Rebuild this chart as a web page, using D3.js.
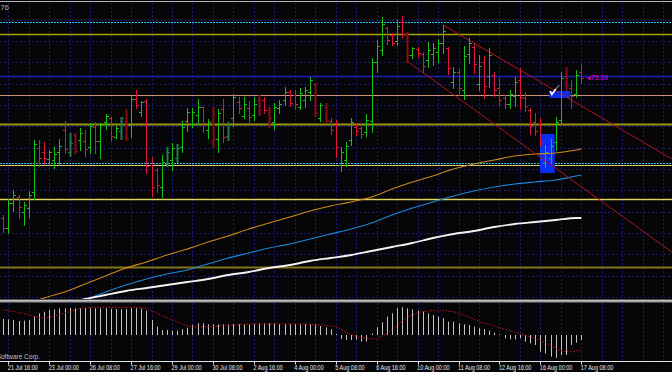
<!DOCTYPE html>
<html lang="en">
<head>
<meta charset="UTF-8" />
<script src="https://d3js.org/d3.v7.min.js"></script>
<title>H4 chart</title>
<style>
  body { margin: 0; background: #050508; }
  svg { display: block; }
  text { font-family: "Liberation Sans", Arial, sans-serif; }
</style>
</head>
<body>
<script>
// time axis labels, one every 8 bars starting at bar 1
const dates = ["21 Jul 16:00", "23 Jul 00:00", "26 Jul 08:00", "27 Jul 16:00", "29 Jul 00:00",
  "30 Jul 08:00", "2 Aug 16:00", "4 Aug 00:00", "5 Aug 08:00", "6 Aug 16:00",
  "10 Aug 00:00", "11 Aug 08:00", "12 Aug 16:00", "16 Aug 00:00", "17 Aug 08:00"];

// H4 bars, oldest first
const opens = [73.88,73.78,74.03,74.09,73.94,73.98,74.14,74.58,74.54,74.47,
  74.46,74.54,74.76,74.54,74.71,74.66,74.65,74.59,74.79,74.65,
  74.84,74.88,74.69,74.75,74.85,74.81,75.07,74.94,75.05,74.41,
  74.36,74.19,74.42,74.46,74.48,74.59,74.85,74.82,74.91,74.99,
  74.76,74.85,74.67,74.97,74.70,74.88,75.04,74.90,74.98,74.91,
  75.06,75.06,74.96,74.84,74.98,75.06,75.14,75.11,74.99,75.06,
  75.14,75.22,74.88,74.99,74.85,74.81,74.41,74.46,74.66,74.79,
  74.78,74.74,74.85,75.44,75.56,75.78,75.71,75.65,75.84,75.72,
  75.51,75.57,75.52,75.46,75.52,75.54,75.63,75.58,75.24,75.34,
  75.16,75.52,75.59,75.22,75.44,75.30,75.31,75.18,75.08,75.02,
  75.10,75.26,75.08,74.96,74.84,74.82,74.43,74.48,74.64,74.86,
  75.30,75.18,75.12,75.34];
const highs = [73.91,74.07,74.16,74.11,74.04,74.15,74.66,74.66,74.64,74.56,
  74.59,74.67,74.85,74.73,74.73,74.78,74.76,74.83,74.84,74.83,
  74.92,74.89,74.80,74.89,74.97,75.10,75.16,75.05,75.07,74.49,
  74.38,74.51,74.59,74.63,74.62,74.85,74.98,74.98,75.07,75.00,
  74.87,74.99,74.97,75.07,74.84,75.12,75.09,75.09,75.05,75.09,
  75.11,75.09,74.99,75.03,75.06,75.19,75.16,75.16,75.18,75.19,
  75.29,75.23,75.03,75.03,74.88,74.86,74.59,74.64,74.88,74.83,
  74.79,74.92,75.48,75.66,75.89,75.79,75.73,75.86,75.90,75.74,
  75.59,75.59,75.54,75.64,75.63,75.67,75.81,75.59,75.39,75.37,
  75.60,75.68,75.63,75.51,75.50,75.58,75.34,75.28,75.11,75.16,
  75.29,75.38,75.14,74.98,74.93,74.88,74.61,74.67,74.89,75.34,
  75.39,75.26,75.36,75.42];
const lows = [73.74,73.73,73.95,73.88,73.81,73.89,74.07,74.40,74.43,74.44,
  74.38,74.41,74.53,74.50,74.53,74.56,74.50,74.53,74.53,74.48,
  74.77,74.65,74.68,74.67,74.66,74.69,74.98,74.90,74.33,74.10,
  74.14,74.09,74.40,74.36,74.44,74.54,74.75,74.79,74.83,74.74,
  74.68,74.59,74.54,74.64,74.66,74.80,74.93,74.88,74.83,74.86,
  74.91,74.93,74.79,74.77,74.93,75.01,75.00,74.97,74.97,74.99,
  75.06,74.90,74.85,74.83,74.72,74.49,74.35,74.40,74.61,74.71,
  74.68,74.70,74.74,75.34,75.51,75.62,75.61,75.61,75.69,75.44,
  75.48,75.49,75.34,75.39,75.41,75.44,75.53,75.32,75.18,75.11,
  75.07,75.43,75.33,75.16,75.08,75.19,75.10,75.01,74.98,74.98,
  75.00,74.97,74.95,74.72,74.71,74.60,74.39,74.43,74.56,74.82,
  75.16,74.98,75.09,75.23];
const closes = [73.78,74.03,74.11,73.99,74.01,74.11,74.62,74.48,74.48,74.54,
  74.52,74.60,74.57,74.63,74.55,74.73,74.57,74.80,74.65,74.81,
  74.90,74.70,74.78,74.88,74.68,75.07,75.01,75.04,74.40,74.19,
  74.21,74.44,74.54,74.58,74.58,74.79,74.94,74.94,74.99,74.83,
  74.84,74.67,74.93,74.69,74.81,75.09,74.98,75.02,74.89,75.02,
  74.96,74.96,74.88,74.99,75.02,75.14,75.03,75.02,75.13,75.16,
  75.26,74.94,75.01,74.86,74.76,74.59,74.54,74.60,74.84,74.75,
  74.72,74.86,75.44,75.60,75.82,75.66,75.63,75.80,75.72,75.51,
  75.58,75.53,75.40,75.56,75.58,75.63,75.75,75.38,75.34,75.18,
  75.50,75.63,75.42,75.40,75.20,75.51,75.16,75.06,75.02,75.12,
  75.24,75.09,75.00,74.80,74.75,74.64,74.54,74.60,74.84,75.28,
  75.20,75.10,75.31,75.28];
// bars drawn in the darker, heavier shade
const darkBars = [13, 14, 23, 24, 32, 34, 41, 44, 50, 52, 61, 63, 79, 110];

// moving averages, read every 4 bars
const maIdx = [4,8,12,16,20,24,28,32,36,40,44,48,52,56,60,64,68,72,76,80,84,88,92,96,100,104,108,112,113];
const maOrange = [73.00,73.08,73.14,73.22,73.30,73.38,73.44,73.51,73.57,73.64,73.70,73.77,73.83,73.89,
  73.95,74.00,74.04,74.09,74.17,74.24,74.30,74.37,74.42,74.46,74.50,74.52,74.53,74.56,74.57];
const maBlue = [null,null,72.98,73.06,73.14,73.21,73.27,73.32,73.36,73.42,73.48,73.53,73.58,73.62,
  73.67,73.72,73.77,73.83,73.91,73.98,74.04,74.10,74.15,74.19,74.22,74.24,74.26,74.30,74.31];
const maWhite = [null,null,73.02,73.07,73.11,73.15,73.18,73.21,73.24,73.27,73.31,73.34,73.38,73.41,
  73.45,73.48,73.51,73.55,73.59,73.63,73.68,73.72,73.75,73.79,73.82,73.84,73.86,73.88,73.88];

// horizontal price levels
const levels = [75.84, 75.72, 75.30, 75.11, 74.82, 74.43, 74.41, 74.07, 73.39];
const levelColors = ["#22c4f4", "#a8a400", "#2020b4", "#d09080", "#9a9410", "#30c0e8", "#d8cc70", "#e0d060", "#84721a"];
const levelWidths = [1, 1.4, 1.5, 1, 2, 1, 1, 1.4, 2];
const levelDash = ["2,1", null, null, null, null, "2,1", null, null, null];

// trend lines [bar, price] -> [bar, price]
const trendA = [[86, 75.81], [130.7, 74.47]];
const trendB = [[78.9, 75.45], [130.7, 73.54]];

// rectangles [bar from, bar to, price top, price bottom]
const boxes = [[104.9, 107.8, 74.72, 74.33], [106.75, 110.8, 75.15, 75.08]];
const checkMark = [[106.9, 75.15], [107.25, 75.115], [108.0, 75.17]];
const pointer = [[108.0, 75.17], [108.7, 75.21]];

// MACD window
const macd = [16.0,15.7,15.0,14.0,14.3,15.0,18.3,21.7,23.3,25.0,
  25.7,26.7,26.7,27.0,26.7,27.0,27.0,26.7,26.7,26.7,
  26.7,26.0,26.0,25.7,26.0,26.7,26.7,26.3,24.3,15.0,
  8.3,5.0,5.0,4.3,4.3,5.7,7.3,10.0,11.7,11.7,
  10.7,10.7,10.7,10.7,10.7,10.7,10.7,10.7,10.7,10.7,
  11.7,11.7,11.7,11.7,11.0,11.0,10.7,10.7,10.7,10.7,
  10.7,10.7,9.0,7.7,5.7,1.0,-4.0,-5.0,-5.0,-4.5,
  -6.5,-6.5,1.5,7.7,12.7,18.3,21.7,26.7,27.7,26.7,
  25.7,24.3,23.3,21.7,20.0,18.3,16.7,13.3,13.3,11.7,
  10.7,10.0,8.3,6.7,6.0,4.3,2.3,0.7,-3.3,-4.3,
  -4.3,-3.3,-6.7,-8.3,-10.0,-16.7,-18.3,-21.7,-22.7,-20.0,
  -20.0,-10.0,-7.7,-5.0];
const signal = [25,24.5,23.5,22.5,21.5,20,18.5,17.5,17,17.8,
  19,20.5,22,23.5,25,26.5,27.2,27.5,27.6,27.7,
  27.7,27.7,27.7,27.7,27.7,27.7,27.5,27.2,26.7,24.5,
  22,19.5,17.5,15,13,11,9,8.3,8.3,8.3,
  8.3,8.5,8.8,9.2,9.6,10,10.3,10.6,10.8,11,
  11,11,11,11,11,11,11,11,11,10.8,
  10.6,10.3,10,9.6,9.1,8.3,5.5,2.8,0.5,-1.2,
  -2.5,-3.3,-3.8,-4,-1,1.7,5.5,9.5,14.5,17.5,
  20,22,23.3,24,24.3,24.3,24.3,23.8,23.3,21.8,
  20,18.3,15.8,13.3,11.7,10.7,9,7.3,5.7,4.5,
  2.5,1,-0.5,-1.7,-3.5,-5.5,-7.5,-11,-13.5,-15.8,
  -16.5,-17,-16,-15];

const W = 672, H = 372;
const px = v => Math.round(v) + 0.5;

const svg = d3.select("body").append("svg").attr("width", W).attr("height", H);
svg.append("rect").attr("width", W).attr("height", H).attr("fill", "#050508");

const x = d3.scaleLinear().domain([0, 113]).range([3.2, 581.3]);
const y = d3.scaleLinear().domain([76.06, 73.08]).range([0, 298]);
const yInd = d3.scaleLinear().domain([-25, 32]).range([360, 303]);

const defs = svg.append("defs");
defs.append("clipPath").attr("id", "mainClip").append("rect")
  .attr("x", 0).attr("y", 2).attr("width", W).attr("height", 297);
defs.append("clipPath").attr("id", "indClip").append("rect")
  .attr("x", 0).attr("y", 303).attr("width", W).attr("height", 57);

// grid
const gridColor = "#17177e";
svg.append("g").selectAll("line").data(d3.range(1, 131, 4)).join("line")
  .attr("x1", d => px(x(d))).attr("x2", d => px(x(d)))
  .attr("y1", 3).attr("y2", 361)
  .attr("stroke", gridColor).attr("stroke-dasharray", "2,2");
svg.append("g").selectAll("line").data(d3.range(0, 14).map(k => 75.8635 - 0.2135 * k)).join("line")
  .attr("x1", 0).attr("x2", W)
  .attr("y1", d => px(y(d))).attr("y2", d => px(y(d)))
  .attr("stroke", gridColor).attr("stroke-dasharray", "2,2");

const main = svg.append("g").attr("clip-path", "url(#mainClip)");

// price levels
main.append("g").selectAll("line").data(levels).join("line")
  .attr("x1", 0).attr("x2", W)
  .attr("y1", d => y(d) + 0.5).attr("y2", d => y(d) + 0.5)
  .attr("stroke", (d, i) => levelColors[i])
  .attr("stroke-width", (d, i) => levelWidths[i])
  .attr("stroke-dasharray", (d, i) => levelDash[i]);

// rectangles
main.append("g").selectAll("rect").data(boxes).join("rect")
  .attr("x", d => x(d[0])).attr("width", d => x(d[1]) - x(d[0]))
  .attr("y", d => y(d[2])).attr("height", d => y(d[3]) - y(d[2]))
  .attr("fill", "#0a2ef2");

// moving averages
function maLine(vals, color, w) {
  const line = d3.line()
    .defined((d, i) => vals[i] !== null)
    .x((d, i) => x(maIdx[i]))
    .y((d, i) => y(vals[i]))
    .curve(d3.curveMonotoneX);
  main.append("path").datum(vals).attr("d", line)
    .attr("fill", "none").attr("stroke", color).attr("stroke-width", w);
}
maLine(maOrange, "#d08a1c", 1.1);
maLine(maBlue, "#1e88d8", 1.1);
maLine(maWhite, "#f2f2f2", 1.8);

// trend lines
main.append("g").selectAll("line").data([trendA, trendB]).join("line")
  .attr("x1", d => x(d[0][0])).attr("y1", d => y(d[0][1]))
  .attr("x2", d => x(d[1][0])).attr("y2", d => y(d[1][1]))
  .attr("stroke", "#b01418").attr("stroke-width", 1);

// OHLC bars
const bars = d3.range(opens.length);
function barColor(i) {
  const up = closes[i] >= opens[i];
  if (darkBars.includes(i)) return up ? "#1f7f45" : "#8c0c16";
  return up ? "#14c014" : "#e0143c";
}
const barG = main.append("g");
barG.selectAll("line.hl").data(bars).join("line").attr("class", "hl")
  .attr("x1", i => px(x(i))).attr("x2", i => px(x(i)))
  .attr("y1", i => y(highs[i])).attr("y2", i => y(lows[i]) + 1)
  .attr("stroke", barColor)
  .attr("stroke-width", i => darkBars.includes(i) ? 2 : 1);
barG.selectAll("line.op").data(bars).join("line").attr("class", "op")
  .attr("x1", i => px(x(i)) - 2.5).attr("x2", i => px(x(i)))
  .attr("y1", i => px(y(opens[i]))).attr("y2", i => px(y(opens[i])))
  .attr("stroke", barColor);
barG.selectAll("line.cl").data(bars).join("line").attr("class", "cl")
  .attr("x1", i => px(x(i))).attr("x2", i => px(x(i)) + 2.5)
  .attr("y1", i => px(y(closes[i]))).attr("y2", i => px(y(closes[i])))
  .attr("stroke", barColor);

// check mark annotation
const ptLine = d3.line().x(d => x(d[0])).y(d => y(d[1]));
main.append("path").datum(pointer).attr("d", ptLine)
  .attr("fill", "none").attr("stroke", "#b8b8b8").attr("stroke-width", 1);
main.append("path").datum(checkMark).attr("d", ptLine)
  .attr("fill", "none").attr("stroke", "#ffffff").attr("stroke-width", 1.6);

main.append("text").attr("x", x(114.1)).attr("y", y(75.30) + 3.5)
  .attr("font-size", 6.8).attr("font-weight", "bold").attr("fill", "#c000c0")
  .text("\u25C275.30");

svg.append("text").attr("x", 0.5).attr("y", 10)
  .attr("font-size", 7.5).attr("fill", "#b0b0b0").text("76");

// top border and window separator
svg.append("line").attr("x1", 0).attr("x2", W).attr("y1", 1.5).attr("y2", 1.5)
  .attr("stroke", "#b4b4b4");
svg.append("rect").attr("x", 0).attr("y", 299.5).attr("width", W).attr("height", 3)
  .attr("fill", "#9a9a9a");
svg.append("line").attr("x1", 0).attr("x2", W).attr("y1", 300.5).attr("y2", 300.5)
  .attr("stroke", "#c4c4c4");

// MACD window
const ind = svg.append("g").attr("clip-path", "url(#indClip)");
ind.selectAll("line").data(bars).join("line")
  .attr("x1", i => px(x(i))).attr("x2", i => px(x(i)))
  .attr("y1", yInd(0)).attr("y2", i => yInd(macd[i]))
  .attr("stroke", "#c4c4c4");
ind.append("path").datum(signal)
  .attr("d", d3.line().x((d, i) => x(i)).y(d => yInd(d)))
  .attr("fill", "none").attr("stroke", "#c81414")
  .attr("stroke-width", 1).attr("stroke-dasharray", "1.5,1.5");

svg.append("text").attr("x", 40).attr("y", 358.5).attr("text-anchor", "end")
  .attr("font-size", 6.5).attr("fill", "#c0c0c0").text("MetaQuotes Software Corp.");

// time axis
svg.append("line").attr("x1", 0).attr("x2", W).attr("y1", 361.5).attr("y2", 361.5)
  .attr("stroke", "#e4e4e4");
const tickIdx = dates.map((d, k) => 1 + 8 * k);
const axisG = svg.append("g");
axisG.selectAll("line").data(tickIdx).join("line")
  .attr("x1", i => px(x(i))).attr("x2", i => px(x(i)))
  .attr("y1", 361).attr("y2", 364.5)
  .attr("stroke", "#e4e4e4");
axisG.selectAll("text").data(dates).join("text")
  .attr("transform", (d, k) => `translate(${x(tickIdx[k]) - 0.5},369.5) scale(0.85,1)`)
  .attr("font-size", 6.5).attr("fill", "#e8e8e8")
  .text(d => d);
</script>
</body>
</html>
